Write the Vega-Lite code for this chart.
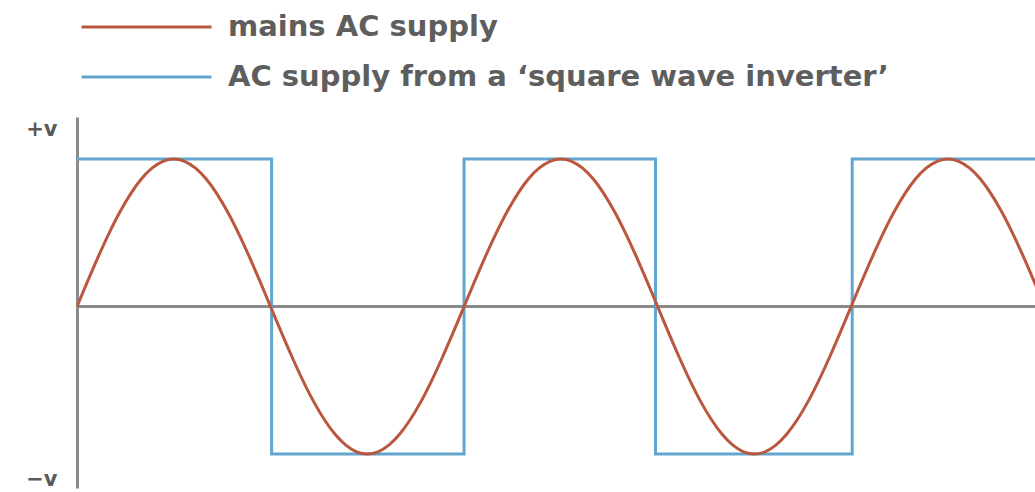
{
  "$schema": "https://vega.github.io/schema/vega-lite/v6.json",
  "autosize": "none",
  "width": 958,
  "height": 371,
  "padding": {"left": 77, "top": 117, "right": 0, "bottom": 4},
  "background": "white",
  "config": {"view": {"stroke": null}, "font": "DejaVu Sans"},
  "datasets": {
    "sine": [
      {"deg": 0, "v": 0}, {"deg": 10, "v": 0.1736}, {"deg": 20, "v": 0.342}, {"deg": 30, "v": 0.5}, {"deg": 40, "v": 0.6428}, {"deg": 50, "v": 0.766}, {"deg": 60, "v": 0.866}, {"deg": 70, "v": 0.9397}, {"deg": 80, "v": 0.9848}, {"deg": 90, "v": 1},
      {"deg": 100, "v": 0.9848}, {"deg": 110, "v": 0.9397}, {"deg": 120, "v": 0.866}, {"deg": 130, "v": 0.766}, {"deg": 140, "v": 0.6428}, {"deg": 150, "v": 0.5}, {"deg": 160, "v": 0.342}, {"deg": 170, "v": 0.1736}, {"deg": 180, "v": 0},
      {"deg": 190, "v": -0.1736}, {"deg": 200, "v": -0.342}, {"deg": 210, "v": -0.5}, {"deg": 220, "v": -0.6428}, {"deg": 230, "v": -0.766}, {"deg": 240, "v": -0.866}, {"deg": 250, "v": -0.9397}, {"deg": 260, "v": -0.9848}, {"deg": 270, "v": -1},
      {"deg": 280, "v": -0.9848}, {"deg": 290, "v": -0.9397}, {"deg": 300, "v": -0.866}, {"deg": 310, "v": -0.766}, {"deg": 320, "v": -0.6428}, {"deg": 330, "v": -0.5}, {"deg": 340, "v": -0.342}, {"deg": 350, "v": -0.1736}, {"deg": 360, "v": 0},
      {"deg": 370, "v": 0.1736}, {"deg": 380, "v": 0.342}, {"deg": 390, "v": 0.5}, {"deg": 400, "v": 0.6428}, {"deg": 410, "v": 0.766}, {"deg": 420, "v": 0.866}, {"deg": 430, "v": 0.9397}, {"deg": 440, "v": 0.9848}, {"deg": 450, "v": 1},
      {"deg": 460, "v": 0.9848}, {"deg": 470, "v": 0.9397}, {"deg": 480, "v": 0.866}, {"deg": 490, "v": 0.766}, {"deg": 500, "v": 0.6428}, {"deg": 510, "v": 0.5}, {"deg": 520, "v": 0.342}, {"deg": 530, "v": 0.1736}, {"deg": 540, "v": 0},
      {"deg": 550, "v": -0.1736}, {"deg": 560, "v": -0.342}, {"deg": 570, "v": -0.5}, {"deg": 580, "v": -0.6428}, {"deg": 590, "v": -0.766}, {"deg": 600, "v": -0.866}, {"deg": 610, "v": -0.9397}, {"deg": 620, "v": -0.9848}, {"deg": 630, "v": -1},
      {"deg": 640, "v": -0.9848}, {"deg": 650, "v": -0.9397}, {"deg": 660, "v": -0.866}, {"deg": 670, "v": -0.766}, {"deg": 680, "v": -0.6428}, {"deg": 690, "v": -0.5}, {"deg": 700, "v": -0.342}, {"deg": 710, "v": -0.1736}, {"deg": 720, "v": 0},
      {"deg": 730, "v": 0.1736}, {"deg": 740, "v": 0.342}, {"deg": 750, "v": 0.5}, {"deg": 760, "v": 0.6428}, {"deg": 770, "v": 0.766}, {"deg": 780, "v": 0.866}, {"deg": 790, "v": 0.9397}, {"deg": 800, "v": 0.9848}, {"deg": 810, "v": 1},
      {"deg": 820, "v": 0.9848}, {"deg": 830, "v": 0.9397}, {"deg": 840, "v": 0.866}, {"deg": 850, "v": 0.766}, {"deg": 860, "v": 0.6428}, {"deg": 870, "v": 0.5}, {"deg": 880, "v": 0.342}, {"deg": 890, "v": 0.1736}, {"deg": 900, "v": 0}
    ],
    "square": [
      {"deg": 0, "v": 1, "o": 0}, {"deg": 181, "v": 1, "o": 1}, {"deg": 181, "v": -1, "o": 2}, {"deg": 360, "v": -1, "o": 3}, {"deg": 360, "v": 1, "o": 4},
      {"deg": 538, "v": 1, "o": 5}, {"deg": 538, "v": -1, "o": 6}, {"deg": 721, "v": -1, "o": 7}, {"deg": 721, "v": 1, "o": 8}, {"deg": 900, "v": 1, "o": 9}
    ],
    "zero": [{"v": 0}]
  },
  "layer": [
    {
      "data": {"name": "zero"},
      "mark": {"type": "rule", "color": "#8a8a8a", "strokeWidth": 3},
      "encoding": {"y": {"field": "v", "type": "quantitative"}}
    },
    {
      "data": {"name": "square"},
      "transform": [{"calculate": "'AC supply from a \u2018square wave inverter\u2019'", "as": "series"}],
      "mark": {"type": "line", "strokeWidth": 3, "clip": true},
      "encoding": {
        "x": {"field": "deg", "type": "quantitative", "scale": {"domain": [0, 891], "nice": false}, "axis": null},
        "y": {"field": "v", "type": "quantitative", "scale": {"domain": [-1.23, 1.285], "nice": false, "zero": false},
          "axis": {"title": null, "values": [1.2, -1.17], "labelExpr": "datum.value > 0 ? '+v' : '\u2212v'", "ticks": false, "grid": false, "domainColor": "#8a8a8a", "domainWidth": 3, "labelFontSize": 21, "labelFontWeight": "bold", "labelColor": "#5a5a5a", "labelPadding": 20, "labelFont": "DejaVu Sans"}},
        "order": {"field": "o"},
        "color": {"field": "series", "type": "nominal"}
      }
    },
    {
      "data": {"name": "sine"},
      "transform": [{"calculate": "'mains AC supply'", "as": "series"}],
      "mark": {"type": "line", "strokeWidth": 3, "interpolate": "monotone", "clip": true},
      "encoding": {
        "x": {"field": "deg", "type": "quantitative"},
        "y": {"field": "v", "type": "quantitative"},
        "color": {"field": "series", "type": "nominal",
          "scale": {"domain": ["mains AC supply", "AC supply from a \u2018square wave inverter\u2019"], "range": ["#b9573f", "#62a6d0"]},
          "legend": {"title": null, "orient": "none", "legendX": 3, "legendY": -105, "symbolType": "stroke", "symbolSize": 16900, "symbolStrokeWidth": 3, "clipHeight": 30, "rowPadding": 20, "labelFontSize": 29, "labelFontWeight": "bold", "labelColor": "#5e5e5e", "labelFont": "DejaVu Sans", "labelOffset": 15, "labelLimit": 900, "symbolOpacity": 1}}
      }
    }
  ]
}
